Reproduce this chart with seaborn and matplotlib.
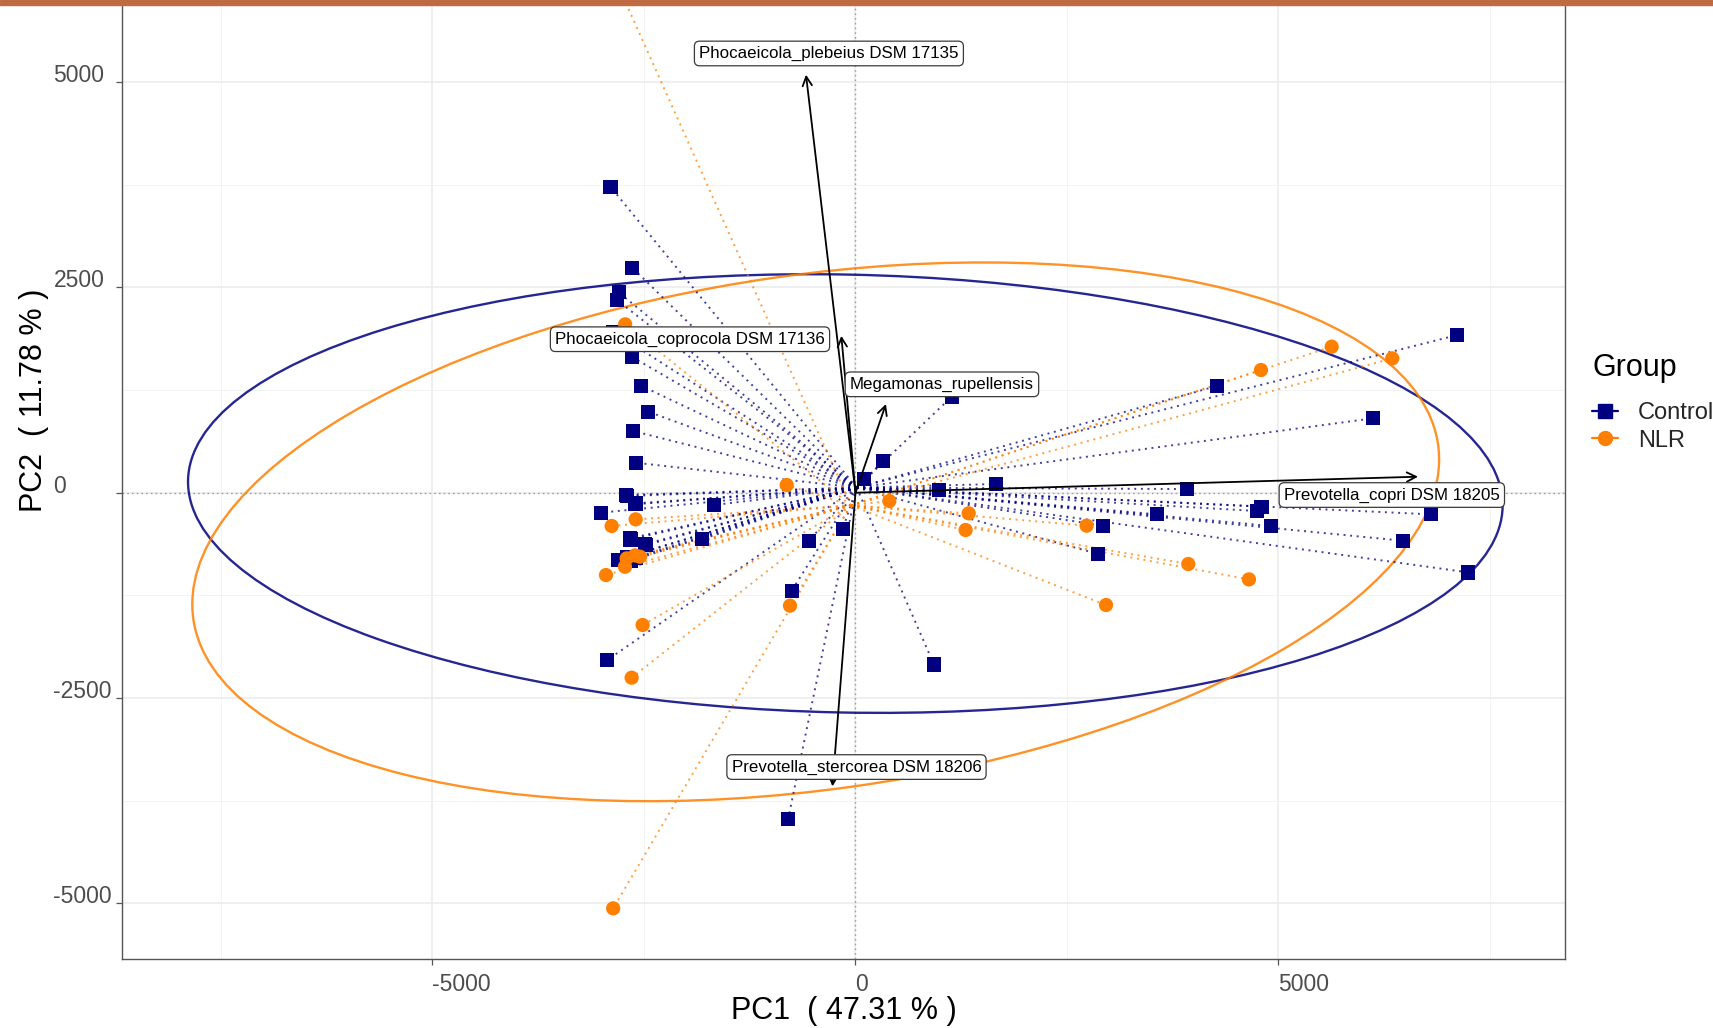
import numpy as np
import pandas as pd
import matplotlib
matplotlib.use("Agg")
import matplotlib.pyplot as plt
import seaborn as sns
from matplotlib.patches import Ellipse, Rectangle
from matplotlib.collections import LineCollection
from matplotlib.lines import Line2D

# ---------------- data ----------------
control_x = [-2897, -2637, -2799, -2819, -2864, -2645, -2535, -2449, -2626, -2595,
             -2714, -2598, -3012, -1673, -2666, -2476, -1818, -2804, -2700, -550,
             -151, -754, -2934, -797, 927, 329, 100, 991, 1657, 1137,
             2922, 2870, 4269, 7114, 6121, 3922, 3560, 4799, 4750, 4911,
             6799, 6468, 7244,
             -2700, -2605, -2660, -2485, -2660, -2600]
control_y = [3726, 2740, 2440, 2346, 1960, 1656, 1303, 986, 751, 365,
             -28, -130, -243, -150, -555, -637, -568, -819, -780, -584,
             -442, -1193, -2037, -3977, -2090, 388, 163, 33, 106, 1169,
             -401, -746, 1299, 1920, 906, 45, -263, -170, -223, -405,
             -263, -584, -970,
             -40, -140, -570, -625, -830, -790]

nlr_x = [-2722, -813, 400, 1338, 1302, 2732, 3934, 4651, 4793, 5629,
         6345, 2962, -2598, -2882, -2704, -2606, -2547, -2725, -2949, -2516,
         -2646, -774, -2864, -4035]
nlr_y = [2050, 94, -101, -251, -454, -401, -868, -1055, 1494, 1778,
         1636, -1367, -324, -405, -799, -763, -779, -901, -1002, -1611,
         -2252, -1375, -5060, 9000]

loading_names = ["Phocaeicola_plebeius DSM 17135", "Phocaeicola_coprocola DSM 17136",
                 "Megamonas_rupellensis", "Prevotella_copri DSM 18205",
                 "Prevotella_stercorea DSM 18206"]
loading_x = [-585, -167, 360, 6649, -272]
loading_y = [5090, 1910, 1080, 195, -3575]
label_x = [-314, -1956, 1022, 6340, 12]
label_y = [5348, 1869, 1320, -28, -3340]

ellipse_group = ["Control", "NLR"]
ellipse_cx = [-120, -470]
ellipse_cy = [-10, -476]
ellipse_a = [7771, 7433]
ellipse_b = [2666, 3132]
ellipse_angle = [-1.2, 8.3]

groups = ["Control", "NLR"]
x_ticks = [-5000, 0, 5000]
x_minor = [-7500, -2500, 2500, 7500]
y_ticks = [-5000, -2500, 0, 2500, 5000]
y_minor = [-3750, -1250, 1250, 3750, 6250]
x_title = "PC1  ( 47.31 % )"
y_title = "PC2  ( 11.78 % )"
legend_title = "Group"

# ---------------- style ----------------
colors = {"Control": "#000080", "NLR": "#FF7F00"}
markers = {"Control": "s", "NLR": "o"}

sns.set_theme(style="white")
plt.rcParams["font.family"] = ["Liberation Sans", "DejaVu Sans"]

W, H = 1713, 1028
fig = plt.figure(figsize=(W / 100, H / 100), dpi=100)
fig.patch.set_facecolor("white")
ax = fig.add_axes([122 / W, (H - 959) / H, (1565 - 122) / W, (959 + 159) / H])
ax.set_facecolor("white")
ax.set_xlim(-8670, 8387)
ax.set_ylim(-5677, 7935)

# grid
ax.set_xticks(x_ticks)
ax.set_xticks(x_minor, minor=True)
ax.set_yticks(y_ticks)
ax.set_yticks(y_minor, minor=True)
ax.grid(which="major", color="#EBEBEB", lw=1.1, zorder=0)
ax.grid(which="minor", color="#F3F3F3", lw=0.7, zorder=0)
ax.set_axisbelow(True)

# reference lines
ax.axhline(0, color="#A0A0A0", lw=1.0, ls=(0, (1.2, 2.2)), zorder=1)
ax.axvline(0, color="#A0A0A0", lw=1.0, ls=(0, (1.2, 2.2)), zorder=1)

# data frame
df = pd.DataFrame({
    "PC1": control_x + nlr_x,
    "PC2": control_y + nlr_y,
    "Group": ["Control"] * len(control_x) + ["NLR"] * len(nlr_x),
})
cent = df.groupby("Group")[["PC1", "PC2"]].mean()

# ellipses
for g, cx, cy, a, b, ang in zip(ellipse_group, ellipse_cx, ellipse_cy,
                                ellipse_a, ellipse_b, ellipse_angle):
    ax.add_patch(Ellipse((cx, cy), 2 * a, 2 * b, angle=ang, fill=False,
                         ec=colors[g], lw=1.7, alpha=0.85, zorder=2))

# spider segments
for g in groups:
    sub = df[df.Group == g]
    c = cent.loc[g]
    segs = [[(c.PC1, c.PC2), (x, y)] for x, y in zip(sub.PC1, sub.PC2)]
    lc = LineCollection(segs, colors=colors[g], linewidths=1.4,
                        linestyles=[(0, (1.0, 2.4))], alpha=0.75, zorder=3)
    ax.add_collection(lc)

# points
sns.scatterplot(data=df, x="PC1", y="PC2", hue="Group", style="Group",
                hue_order=groups, style_order=groups,
                palette=colors, markers=markers, s=105, linewidth=0,
                legend=False, ax=ax, zorder=4)

# loading arrows
for lx, ly in zip(loading_x, loading_y):
    ax.annotate("", xy=(lx, ly), xytext=(0, 0),
                arrowprops=dict(arrowstyle="->,head_length=0.55,head_width=0.28",
                                color="black", lw=1.3, shrinkA=0, shrinkB=0),
                zorder=5)
for name, tx, ty in zip(loading_names, label_x, label_y):
    ax.text(tx, ty, name, ha="center", va="center", fontsize=12.2, color="black",
            zorder=6,
            bbox=dict(boxstyle="round,pad=0.28,rounding_size=0.3", fc="white",
                      ec="#3A3A3A", lw=0.9))

# axes styling
ax.set_xlabel("")
ax.set_ylabel("")
for s in ["left", "bottom", "right"]:
    ax.spines[s].set_color("#555555")
    ax.spines[s].set_linewidth(1.0)
ax.spines["top"].set_visible(False)
ax.set_xticklabels([str(t) for t in x_ticks], ha="left")
ax.set_yticklabels([str(t) for t in y_ticks], ha="left", va="baseline")
ax.tick_params(axis="both", which="major", length=4, width=0.9, color="#555555",
               labelcolor="#4D4D4D", labelsize=16.5)
ax.tick_params(axis="x", which="major", pad=6, bottom=True)
ax.tick_params(axis="y", which="major", pad=45.4, left=True)
ax.tick_params(which="minor", length=0)

fig.text(844 / W, 1 - 1018.5 / H, x_title, ha="center", va="baseline",
         fontsize=22, color="black")
fig.text(34 / W, 1 - 400 / H, y_title, ha="center", va="center",
         rotation=90, fontsize=22, color="black")

# legend
fig.text(1593 / W, 1 - 376 / H, legend_title, ha="left", va="baseline",
         fontsize=22, color="black")
handles = [Line2D([0], [0], color=colors[g], marker=markers[g], markersize=10,
                  lw=1.6, ls="-") for g in groups]
leg = fig.legend(handles, groups, loc="upper left",
                 bbox_to_anchor=(1592 / W, 1 - 402.5 / H), frameon=False,
                 fontsize=17, handlelength=1.1,
                 handletextpad=0.85, labelspacing=0.22, borderpad=0,
                 borderaxespad=0)

# top band
fig.add_artist(Rectangle((0, 1 - 5 / H), 1, 5 / H, transform=fig.transFigure,
                         color="#BF6A42", zorder=20))

fig.savefig("out.png", dpi=100)
